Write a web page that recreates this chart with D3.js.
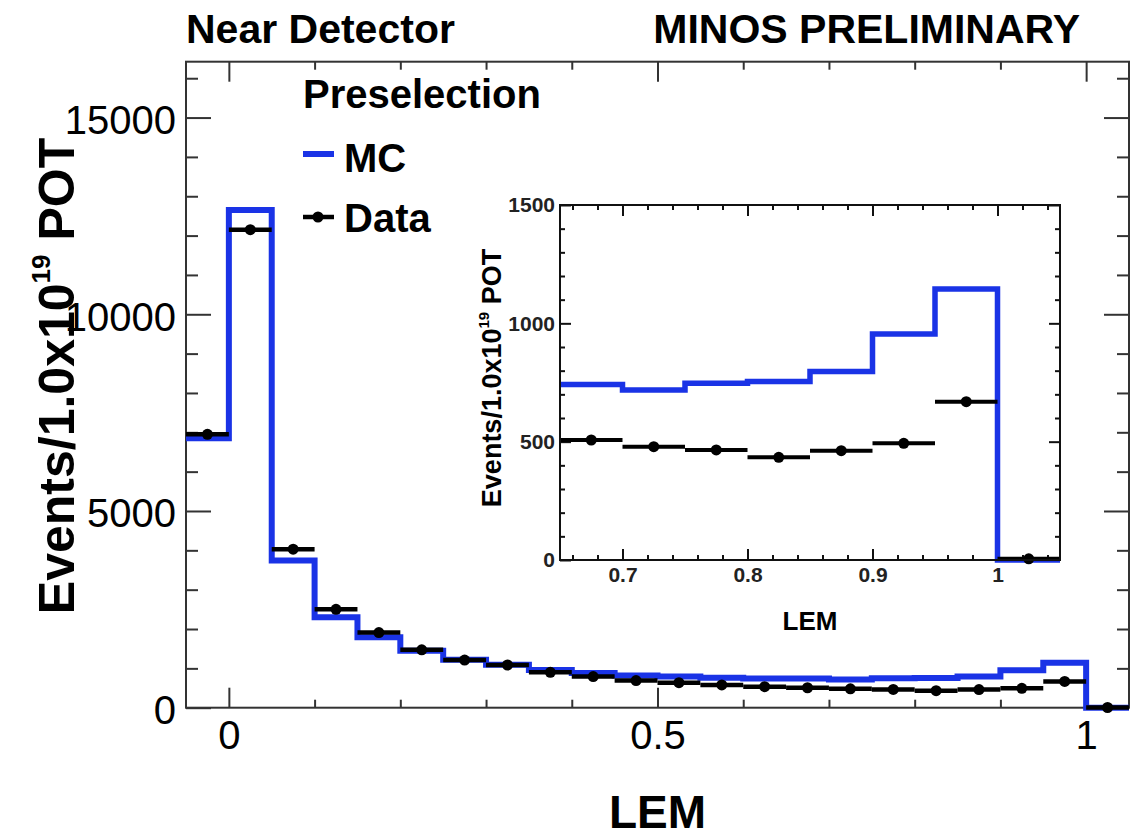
<!DOCTYPE html>
<html>
<head>
<meta charset="utf-8">
<script src="https://cdn.jsdelivr.net/npm/d3@7"></script>
<style>
  body { margin: 0; background: #fff; }
  svg { display: block; font-family: "Liberation Sans", Arial, Helvetica, sans-serif; }
</style>
</head>
<body>
<svg id="chart" width="1130" height="840"></svg>
<script>
// LEM histogram, bins of width 0.05 (lower edges)
let binLow = [-0.05, 0, 0.05, 0.1, 0.15, 0.2, 0.25, 0.3, 0.35, 0.4, 0.45,
              0.5, 0.55, 0.6, 0.65, 0.7, 0.75, 0.8, 0.85, 0.9, 0.95, 1.0];
let binWidth = 0.05;

// Events / 1.0x10^19 POT
let mcEvents = [6850, 12650, 3740, 2300, 1790, 1450, 1220, 1090, 960, 880, 820,
                790, 760, 745, 742, 718, 747, 754, 796, 955, 1145, 0];
let dataEvents = [6950, 12150, 4030, 2500, 1910, 1470, 1210, 1085, 900, 790, 690,
                  635, 580, 535, 507, 479, 465, 434, 462, 493, 669, 5];

let xTicksMain = [0, 0.5, 1];
let xMinorMain = [0.1, 0.2, 0.3, 0.4, 0.6, 0.7, 0.8, 0.9];
let yTicksMain = [0, 5000, 10000, 15000];
let xTicksInset = [0.7, 0.8, 0.9, 1];
let yTicksInset = [0, 500, 1000, 1500];

let blue = '#1a33e6';
let svg = d3.select('#chart');

let x = d3.scaleLinear().domain([-0.05, 1.05]).range([186, 1129]);
let y = d3.scaleLinear().domain([0, 16420]).range([707.7, 61.7]);

let yMinorMain = d3.range(1000, 16001, 1000).filter(v => v % 5000 !== 0);
let plain = d3.format('');

// inward tick helper: draws ticks only
function ticks(g, axis, vals, size, color) {
  g.call(axis.tickValues(vals).tickSize(size).tickFormat(''))
  g.select('.domain').remove()
  g.selectAll('line').attr('stroke', color || '#333').attr('stroke-width', 2)
}

// main frame ticks
ticks(svg.append('g').attr('transform', 'translate(0,707.7)'), d3.axisTop(x), xTicksMain, 20)
ticks(svg.append('g').attr('transform', 'translate(0,707.7)'), d3.axisTop(x), xMinorMain, 8)
ticks(svg.append('g').attr('transform', 'translate(0,61.7)'), d3.axisBottom(x), xTicksMain, 20)
ticks(svg.append('g').attr('transform', 'translate(0,61.7)'), d3.axisBottom(x), xMinorMain, 8)
ticks(svg.append('g').attr('transform', 'translate(186,0)'), d3.axisRight(y), yTicksMain, 25)
ticks(svg.append('g').attr('transform', 'translate(186,0)'), d3.axisRight(y), yMinorMain, 12)
ticks(svg.append('g').attr('transform', 'translate(1129,0)'), d3.axisLeft(y), yTicksMain, 25)
ticks(svg.append('g').attr('transform', 'translate(1129,0)'), d3.axisLeft(y), yMinorMain, 12)

svg.append('rect')
  .attr('x', 186).attr('y', 61.7)
  .attr('width', 1129 - 186).attr('height', 707.7 - 61.7)
  .attr('fill', 'none').attr('stroke', '#333').attr('stroke-width', 2)

// main tick labels
let xLab = svg.append('g').attr('transform', 'translate(0,707.7)')
  .call(d3.axisBottom(x).tickValues(xTicksMain).tickSize(0).tickPadding(13).tickFormat(plain))
xLab.select('.domain').remove()
xLab.selectAll('text').attr('font-size', 40).attr('font-family', null).attr('fill', '#000')

let yLab = svg.append('g').attr('transform', 'translate(186,0)')
  .call(d3.axisLeft(y).tickValues(yTicksMain).tickSize(0).tickPadding(10).tickFormat(plain))
yLab.select('.domain').remove()
yLab.selectAll('text').attr('font-size', 40).attr('font-family', null).attr('fill', '#000').attr('dy', '0.4em')

// histogram helpers
function stepPoints(vals, lo, hi) {
  let pts = []
  binLow.forEach((b, i) => { if (b >= lo - 1e-9 && b < hi - 1e-9) pts.push([b, vals[i]]) })
  pts.push([hi, pts[pts.length - 1][1]])
  return pts
}

function drawHist(g, xs, ys, lo, hi, width, r) {
  let line = d3.line().x(d => xs(d[0])).y(d => ys(d[1])).curve(d3.curveStepAfter)
  g.append('path')
    .datum(stepPoints(mcEvents, lo, hi))
    .attr('d', line)
    .attr('fill', 'none')
    .attr('stroke', blue)
    .attr('stroke-width', width)

  let pts = binLow.map((b, i) => ({ lo: b, v: dataEvents[i] }))
    .filter(d => d.lo >= lo - 1e-9 && d.lo < hi - 1e-9)
  let dp = g.selectAll(null).data(pts).enter()
  dp.append('line')
    .attr('x1', d => xs(d.lo)).attr('x2', d => xs(d.lo + binWidth))
    .attr('y1', d => ys(d.v)).attr('y2', d => ys(d.v))
    .attr('stroke', '#000').attr('stroke-width', width - 1.5)
  dp.append('circle')
    .attr('cx', d => xs(d.lo + binWidth / 2))
    .attr('cy', d => ys(d.v))
    .attr('r', r)
    .attr('fill', '#000')
}

drawHist(svg.append('g'), x, y, -0.05, 1.05, 6, 5.5)

// titles
svg.append('text').attr('x', 186).attr('y', 43)
  .attr('font-size', 41).attr('font-weight', 'bold').text('Near Detector')
svg.append('text').attr('x', 1080).attr('y', 43).attr('text-anchor', 'end')
  .attr('font-size', 41).attr('font-weight', 'bold').text('MINOS PRELIMINARY')

svg.append('text').attr('x', x(0.5)).attr('y', 828).attr('text-anchor', 'middle')
  .attr('font-size', 46).attr('font-weight', 'bold').text('LEM')

let yt = svg.append('text')
  .attr('transform', 'translate(74,376) rotate(-90)')
  .attr('text-anchor', 'middle')
  .attr('font-size', 50).attr('font-weight', 'bold')
yt.append('tspan').text('Events/1.0x10')
yt.append('tspan').attr('font-size', 26).attr('dy', -24).text('19')
yt.append('tspan').attr('dy', 24).text(' POT')

// legend
svg.append('text').attr('x', 303).attr('y', 108)
  .attr('font-size', 40).attr('font-weight', 'bold').text('Preselection')
svg.append('line').attr('x1', 303).attr('x2', 334).attr('y1', 154).attr('y2', 154)
  .attr('stroke', blue).attr('stroke-width', 6)
svg.append('text').attr('x', 344).attr('y', 172)
  .attr('font-size', 40).attr('font-weight', 'bold').text('MC')
svg.append('line').attr('x1', 303).attr('x2', 334).attr('y1', 217).attr('y2', 217)
  .attr('stroke', '#000').attr('stroke-width', 4.5)
svg.append('circle').attr('cx', 318).attr('cy', 217).attr('r', 5.5).attr('fill', '#000')
svg.append('text').attr('x', 344).attr('y', 232)
  .attr('font-size', 40).attr('font-weight', 'bold').text('Data')

// ---------------- inset ----------------
let xi = d3.scaleLinear().domain([0.65, 1.05]).range([560, 1060]);
let yi = d3.scaleLinear().domain([0, 1500]).range([560, 205]);
let xMinorInset = d3.range(0.66, 1.05, 0.02).filter(v => Math.abs(v * 10 - Math.round(v * 10)) > 1e-6);
let yMinorInset = d3.range(100, 1500, 100).filter(v => v % 500 !== 0);

let inset = svg.append('g')
inset.append('rect').attr('x', 560).attr('y', 205).attr('width', 500).attr('height', 355).attr('fill', '#fff')

ticks(inset.append('g').attr('transform', 'translate(0,560)'), d3.axisTop(xi), xTicksInset, 11, '#111')
ticks(inset.append('g').attr('transform', 'translate(0,560)'), d3.axisTop(xi), xMinorInset, 5, '#111')
ticks(inset.append('g').attr('transform', 'translate(0,205)'), d3.axisBottom(xi), xTicksInset, 11, '#111')
ticks(inset.append('g').attr('transform', 'translate(0,205)'), d3.axisBottom(xi), xMinorInset, 5, '#111')
ticks(inset.append('g').attr('transform', 'translate(560,0)'), d3.axisRight(yi), yTicksInset, 11, '#111')
ticks(inset.append('g').attr('transform', 'translate(560,0)'), d3.axisRight(yi), yMinorInset, 5, '#111')
ticks(inset.append('g').attr('transform', 'translate(1060,0)'), d3.axisLeft(yi), yTicksInset, 11, '#111')
ticks(inset.append('g').attr('transform', 'translate(1060,0)'), d3.axisLeft(yi), yMinorInset, 5, '#111')

drawHist(inset.append('g'), xi, yi, 0.65, 1.05, 5.5, 5.5)

inset.append('rect').attr('x', 560).attr('y', 205).attr('width', 500).attr('height', 355)
  .attr('fill', 'none').attr('stroke', '#111').attr('stroke-width', 2)

let xiLab = inset.append('g').attr('transform', 'translate(0,560)')
  .call(d3.axisBottom(xi).tickValues(xTicksInset).tickSize(0).tickPadding(7).tickFormat(plain))
xiLab.select('.domain').remove()
xiLab.selectAll('text').attr('font-size', 21).attr('font-weight', 'bold').attr('font-family', null).attr('fill', '#222')

let yiLab = inset.append('g').attr('transform', 'translate(560,0)')
  .call(d3.axisLeft(yi).tickValues(yTicksInset).tickSize(0).tickPadding(5).tickFormat(plain))
yiLab.select('.domain').remove()
yiLab.selectAll('text').attr('font-size', 21).attr('font-weight', 'bold').attr('font-family', null).attr('fill', '#222')

inset.append('text').attr('x', 810).attr('y', 630).attr('text-anchor', 'middle')
  .attr('font-size', 26).attr('font-weight', 'bold').text('LEM')

let yit = inset.append('text')
  .attr('transform', 'translate(501,378) rotate(-90)')
  .attr('text-anchor', 'middle')
  .attr('font-size', 27).attr('font-weight', 'bold')
yit.append('tspan').text('Events/1.0x10')
yit.append('tspan').attr('font-size', 15).attr('dy', -12).text('19')
yit.append('tspan').attr('dy', 12).text(' POT')
</script>
</body>
</html>
